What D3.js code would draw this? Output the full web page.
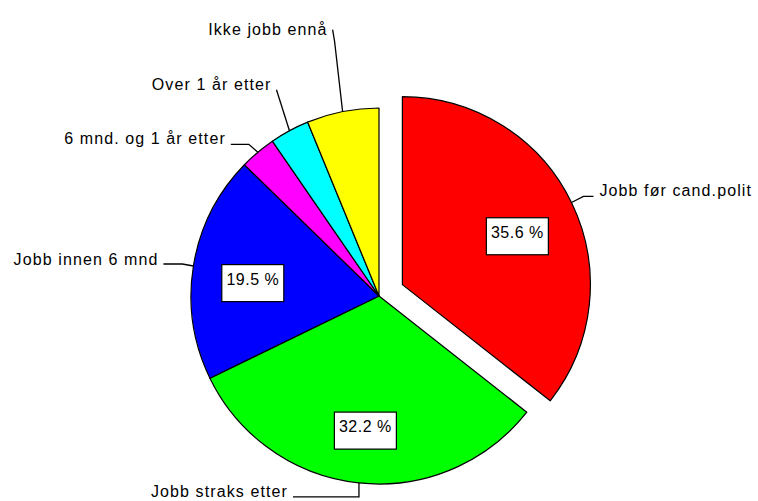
<!DOCTYPE html>
<html>
<head>
<meta charset="utf-8">
<script src="https://cdn.jsdelivr.net/npm/d3@7"></script>
<style>
  body { margin: 0; background: #fff; }
  svg text { font-family: "Liberation Sans", Arial, sans-serif; fill: #000; }
</style>
</head>
<body>
<svg id="chart" width="758" height="501"></svg>
<script>
// data (percent, clockwise from 12 o'clock)
var categories = ["Jobb før cand.polit", "Jobb straks etter", "Jobb innen 6 mnd",
                  "6 mnd. og 1 år etter", "Over 1 år etter", "Ikke jobb ennå"];
var shares = [35.6, 32.2, 19.5, 3.1, 3.4, 6.2];
var colors = ["#ff0000", "#00ff00", "#0000ff", "#ff00ff", "#00ffff", "#ffff00"];
var exploded = [true, false, false, false, false, false];

// leader line layout: knee offset from the rim point, then end of the stub
var leaderKnee = [[12, -6], [0, 14], [-11, -2], [-9, -8], [-13, -41], [-8, -70]];
var leaderStub = [[10, 0], [-66, 0], [-19, 0], [-18, 0], [0, 0], [-2, -12]];
var labelDy = [0, 0, 1, 0, 0, 5];

var width = 758, height = 501,
    cx = 379, cy = 296,
    radius = 188,
    explode = 26;

var svg = d3.select("#chart");
var g = svg.append("g").attr("transform", "translate(" + cx + "," + cy + ")");

var pie = d3.pie().sort(null).value(function(d) { return d; });
var arcs = pie(shares);

var arc = d3.arc().innerRadius(0).outerRadius(radius);
var rim = d3.arc().innerRadius(radius).outerRadius(radius);
var inner = d3.arc().innerRadius(radius * 0.68).outerRadius(radius * 0.68);

function shift(d, i) {
  if (!exploded[i]) return [0, 0];
  var a = (d.startAngle + d.endAngle) / 2;
  return [Math.sin(a) * explode, -Math.cos(a) * explode];
}

var slice = g.selectAll("g.slice")
  .data(arcs)
  .enter()
  .append("g")
    .attr("class", "slice")
    .attr("transform", function(d, i) { var s = shift(d, i); return "translate(" + s[0] + "," + s[1] + ")"; });

slice.append("path")
  .attr("d", arc)
  .attr("fill", function(d, i) { return colors[i]; })
  .attr("stroke", "#000")
  .attr("stroke-width", 1.2)
  .attr("stroke-linejoin", "round");

// percent boxes for the large slices
var fmt = d3.format(".1f");
var boxes = slice.filter(function(d) { return d.data > 10; })
  .append("g")
  .attr("transform", function(d) { var c = inner.centroid(d); return "translate(" + c[0] + "," + c[1] + ")"; });

boxes.append("rect")
  .attr("x", -31).attr("y", -11)
  .attr("width", 62).attr("height", 37)
  .attr("fill", "#fff")
  .attr("stroke", "#000")
  .attr("stroke-width", 1.2);

boxes.append("text")
  .attr("text-anchor", "middle")
  .attr("y", 9)
  .attr("font-size", 16)
  .attr("letter-spacing", 0.5)
  .text(function(d) { return fmt(d.data) + " %"; });

// leader lines and outside labels
slice.each(function(d, i) {
  var p0 = rim.centroid(d);
  var p1 = [p0[0] + leaderKnee[i][0], p0[1] + leaderKnee[i][1]];
  var p2 = [p1[0] + leaderStub[i][0], p1[1] + leaderStub[i][1]];
  var right = p2[0] > p0[0] && i === 0;
  var sel = d3.select(this);

  sel.append("path")
    .attr("d", d3.line()([p0, p1, p2]))
    .attr("fill", "none")
    .attr("stroke", "#000")
    .attr("stroke-width", 1.3);

  sel.append("text")
    .attr("x", p2[0] + (right ? 6 : -5))
    .attr("y", p2[1] + labelDy[i])
    .attr("text-anchor", right ? "start" : "end")
    .attr("font-size", 16)
    .attr("letter-spacing", 1.1)
    .text(categories[i]);
});
</script>
</body>
</html>
